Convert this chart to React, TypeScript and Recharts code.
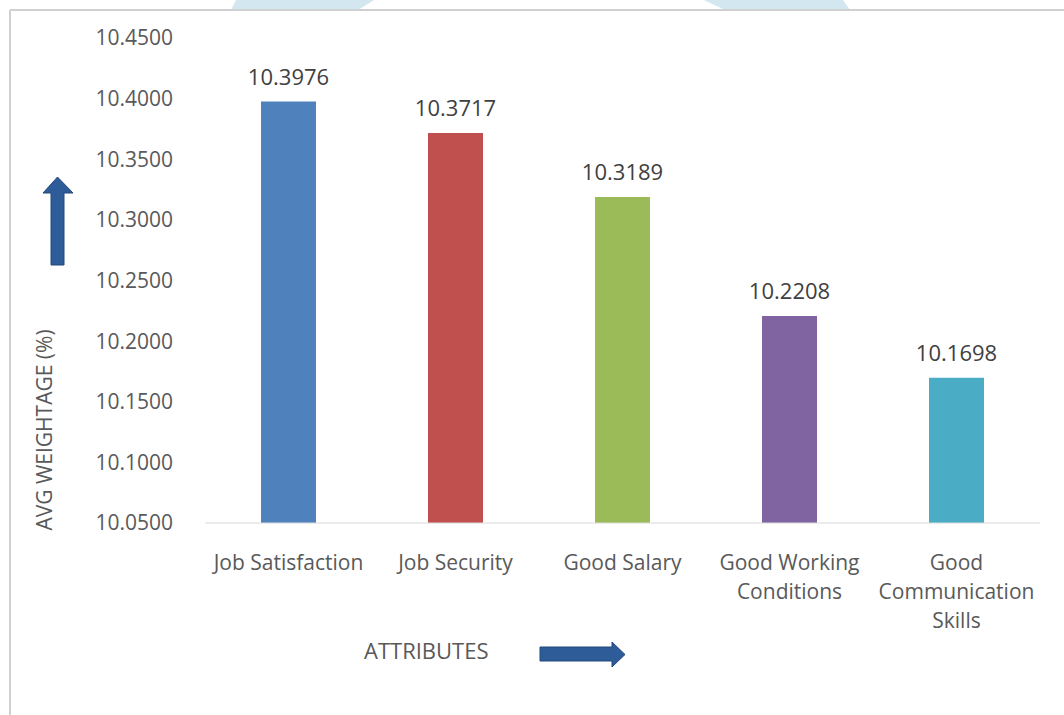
import { BarChart, Bar, XAxis, YAxis, Cell, LabelList } from "recharts";

const categories = [
  "Job Satisfaction",
  "Job Security",
  "Good Salary",
  "Good Working\nConditions",
  "Good\nCommunication\nSkills",
];
const weightage = [10.3976, 10.3717, 10.3189, 10.2208, 10.1698];
const barColors = ["#4f81bd", "#c0504d", "#9bbb59", "#8064a2", "#4bacc6"];
const yTicks = [10.05, 10.1, 10.15, 10.2, 10.25, 10.3, 10.35, 10.4, 10.45];

const data = categories.map((name, i) => ({ name, value: weightage[i] }));

const FONT = "'Open Sans', sans-serif";

function CategoryTick({ x, y, payload }: any) {
  const lines = String(payload.value).split("\n");
  return (
    <text x={x} y={y} textAnchor="middle" fill="#595959" fontSize={21} fontFamily={FONT}>
      {lines.map((l, i) => (
        <tspan key={i} x={x} dy={i === 0 ? 39 : 29}>
          {l}
        </tspan>
      ))}
    </text>
  );
}

export default function App() {
  return (
    <div
      style={{
        position: "absolute",
        left: 0,
        top: 0,
        width: 1064,
        height: 715,
        background: "#fff",
        fontFamily: FONT,
        overflow: "hidden",
      }}
    >
      <BarChart
        width={1064}
        height={715}
        data={data}
        margin={{ top: 38, right: 24, bottom: 20, left: 85 }}
      >
        <XAxis
          dataKey="name"
          interval={0}
          height={172}
          tickLine={false}
          axisLine={{ stroke: "#d9d9d9" }}
          tick={<CategoryTick />}
        />
        <YAxis
          width={120}
          domain={[10.05, 10.45]}
          ticks={yTicks}
          allowDataOverflow
          axisLine={false}
          tickLine={false}
          tickMargin={26}
          tickFormatter={(v: number) => v.toFixed(4)}
          tick={{ fill: "#595959", fontSize: 21, fontFamily: FONT }}
        />
        <Bar dataKey="value" barSize={55} isAnimationActive={false}>
          {data.map((d, i) => (
            <Cell key={d.name} fill={barColors[i]} />
          ))}
          <LabelList
            dataKey="value"
            position="top"
            offset={17}
            fill="#404040"
            fontSize={22}
            fontFamily={FONT}
            formatter={(v: any) => Number(v).toFixed(4)}
          />
        </Bar>
      </BarChart>
      <svg
        width={1064}
        height={715}
        style={{ position: "absolute", left: 0, top: 0, pointerEvents: "none" }}
      >
        <polygon points="236,0 374,0 358,10 231,10" fill="#d3e7f0" />
        <polygon points="704,0 843,0 850,10 725,10" fill="#d3e7f0" />
        <line x1={10} y1={10} x2={1064} y2={10} stroke="#d0d0d0" strokeWidth={2} />
        <line x1={10} y1={10} x2={10} y2={715} stroke="#d0d0d0" strokeWidth={2} />
        <text
          transform="translate(52,430) rotate(-90)"
          textAnchor="middle"
          fill="#595959"
          fontSize={21}
          fontFamily={FONT}
        >
          AVG WEIGHTAGE (%)
        </text>
        <polygon
          points="51,265 64,265 64,193 73,193 57.5,177 43,193 51,193"
          fill="#2e5c99"
          stroke="#22487c"
          strokeWidth={1}
        />
        <text x={364} y={659} fill="#595959" fontSize={22} fontFamily={FONT}>
          ATTRIBUTES
        </text>
        <polygon
          points="540,647 612,647 612,642 625,654.5 612,667 612,661 540,661"
          fill="#2e5c99"
          stroke="#22487c"
          strokeWidth={1}
        />
      </svg>
    </div>
  );
}
